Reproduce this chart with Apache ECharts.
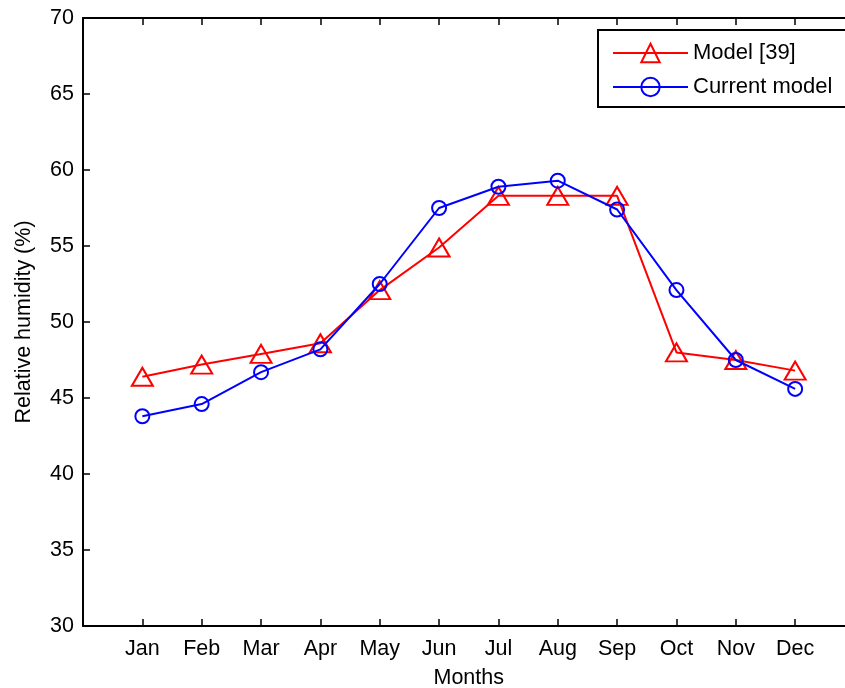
<!DOCTYPE html>
<html>
<head>
<meta charset="utf-8">
<script src="https://cdn.jsdelivr.net/npm/echarts@6/dist/echarts.min.js"></script>
<style>
  html, body { margin: 0; padding: 0; background: #fff; }
  #chart { width: 845px; height: 688px; }
</style>
</head>
<body>
<div id="chart"></div>
<script>
// Monthly relative humidity (%) from two models
const months = ['Jan', 'Feb', 'Mar', 'Apr', 'May', 'Jun', 'Jul', 'Aug', 'Sep', 'Oct', 'Nov', 'Dec'];
const model39 = [46.4, 47.2, 47.9, 48.6, 52.1, 54.9, 58.3, 58.3, 58.3, 48.0, 47.5, 46.8];
const currentModel = [43.8, 44.6, 46.7, 48.2, 52.5, 57.5, 58.9, 59.3, 57.4, 52.1, 47.5, 45.6];
const yTicks = [30, 35, 40, 45, 50, 55, 60, 65, 70];

const FONT = '"Liberation Sans", Arial, Helvetica, sans-serif';
const toPairs = arr => arr.map((v, i) => [i + 1, v]);

const frameLine = { show: true, onZero: false, lineStyle: { color: '#000', width: 2 } };
const innerTick = { show: true, inside: true, length: 7, lineStyle: { color: '#000', width: 1.5 } };

const xBase = {
  type: 'value', min: 0, max: 13, interval: 1,
  axisLine: frameLine,
  splitLine: { show: false },
  axisTick: Object.assign({}, innerTick, {
    customValues: months.map((m, i) => i + 1)
  })
};
const yBase = {
  type: 'value', min: yTicks[0], max: yTicks[yTicks.length - 1], interval: 5,
  axisLine: frameLine,
  splitLine: { show: false },
  axisTick: innerTick
};

const chart = echarts.init(document.getElementById('chart'), null, { renderer: 'canvas' });
chart.setOption({
  backgroundColor: '#fff',
  animation: false,
  textStyle: { fontFamily: FONT },
  grid: {
    left: 83, top: 18, right: -9.5, bottom: 62,
    containLabel: false, outerBoundsMode: 'none'
  },
  legend: {
    left: 598, top: 30,
    orient: 'vertical',
    backgroundColor: '#fff',
    borderColor: '#000', borderWidth: 2, borderRadius: 0,
    padding: [12, 20, 9, 14],
    itemWidth: 75, itemHeight: 23, itemGap: 12,
    textStyle: { fontSize: 22, color: '#000', fontFamily: FONT },
    data: ['Model [39]', 'Current model']
  },
  xAxis: [
    Object.assign({}, xBase, {
      position: 'bottom',
      name: 'Months', nameLocation: 'middle', nameGap: 41,
      nameTextStyle: { fontSize: 21.5, color: '#000', fontFamily: FONT },
      axisLabel: {
        show: true, fontSize: 21.5, color: '#000', margin: 12, fontFamily: FONT,
        customValues: months.map((m, i) => i + 1),
        formatter: v => months[v - 1] || ''
      }
    }),
    Object.assign({}, xBase, { position: 'top', axisLabel: { show: false } })
  ],
  yAxis: [
    Object.assign({}, yBase, {
      position: 'left',
      name: 'Relative humidity (%)', nameLocation: 'middle', nameGap: 48,
      nameTextStyle: { fontSize: 21.5, color: '#000', fontFamily: FONT },
      axisLabel: { show: true, fontSize: 21.5, color: '#000', margin: 9, fontFamily: FONT }
    }),
    Object.assign({}, yBase, { position: 'right', axisLabel: { show: false } })
  ],
  series: [
    {
      name: 'Model [39]', type: 'line',
      data: toPairs(model39),
      symbol: 'triangle', symbolSize: [21, 18],
      lineStyle: { color: '#ff0000', width: 2 },
      itemStyle: { color: 'rgba(255,255,255,0)', borderColor: '#ff0000', borderWidth: 2 },
      emphasis: { disabled: true },
      z: 2
    },
    {
      name: 'Current model', type: 'line',
      data: toPairs(currentModel),
      symbol: 'circle', symbolSize: 14,
      lineStyle: { color: '#0000ff', width: 2 },
      itemStyle: { color: 'rgba(255,255,255,0)', borderColor: '#0000ff', borderWidth: 2 },
      emphasis: { disabled: true },
      z: 3
    }
  ]
});
</script>
</body>
</html>
